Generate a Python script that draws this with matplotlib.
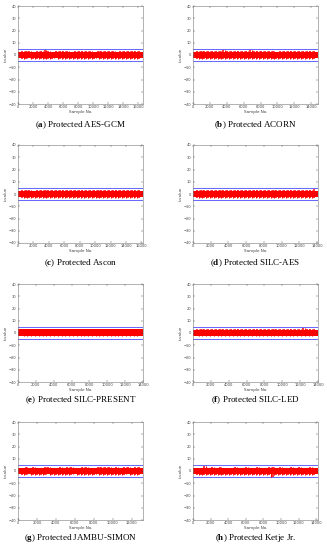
import numpy as np
import matplotlib
matplotlib.use("Agg")
import matplotlib.pyplot as plt

plt.rcParams["mathtext.fontset"] = "custom"
plt.rcParams["mathtext.rm"] = "Liberation Serif"
plt.rcParams["mathtext.bf"] = "Liberation Serif:bold"

# panel captions (letter, name)
letters = ["a", "b", "c", "d", "e", "f", "g", "h"]
names = ["Protected AES-GCM", "Protected ACORN", "Protected Ascon", "Protected SILC-AES",
         "Protected SILC-PRESENT", "Protected SILC-LED", "Protected JAMBU-SIMON", "Protected Ketje Jr."]

# number of samples in each trace (x-axis end)
n_samples = [16600, 14800, 16200, 14100, 14000, 14000, 13200, 14200]
threshold = 4.5

# dense core of the t-value band for each trace (lower, upper)
core_lo = [-2.5, -2.6, -2.5, -2.6, -2.2, -2.3, -2.5, -2.5]
core_hi = [2.6, 2.5, 2.6, 2.5, 2.9, 2.8, 2.4, 2.3]

# t-value peaks (32 bins across the trace)
upper = [
    [3.2, 3.0, 3.5, 2.8, 3.1, 3.3, 3.9, 3.0, 2.7, 3.2, 2.9, 3.4, 3.0, 2.8, 3.1, 3.3,
     2.9, 3.0, 3.6, 2.8, 3.0, 3.2, 2.9, 3.1, 3.4, 2.8, 3.0, 3.3, 3.5, 2.9, 3.1, 3.2],
    [3.0, 3.3, 2.9, 3.1, 3.4, 3.0, 3.2, 3.8, 3.1, 2.9, 3.0, 3.3, 3.5, 3.1, 4.2, 3.2,
     3.0, 2.9, 3.1, 3.3, 3.0, 2.8, 3.2, 3.1, 3.4, 3.0, 2.9, 3.2, 3.3, 3.0, 3.1, 3.4],
    [3.1, 3.4, 3.0, 2.8, 3.2, 3.3, 2.9, 3.1, 3.5, 3.0, 3.2, 3.6, 3.0, 2.9, 3.1, 3.3,
     3.2, 3.0, 2.9, 3.4, 3.1, 3.0, 3.2, 3.3, 2.9, 3.1, 3.4, 3.0, 3.2, 3.1, 3.3, 3.0],
    [3.0, 3.2, 3.1, 3.3, 2.9, 3.0, 3.4, 3.1, 3.2, 3.0, 3.3, 2.9, 3.5, 3.1, 3.0, 3.2,
     3.6, 3.1, 3.0, 3.3, 2.9, 3.1, 3.2, 3.4, 3.0, 3.1, 3.2, 3.0, 3.3, 3.1, 3.2, 3.9],
    [3.4, 3.2, 3.5, 3.1, 3.3, 3.6, 3.2, 3.4, 3.1, 3.5, 3.3, 3.2, 3.6, 3.4, 3.2, 3.5,
     3.3, 3.1, 3.4, 3.6, 3.2, 3.3, 3.5, 3.1, 3.4, 3.2, 3.6, 3.3, 3.5, 3.2, 3.4, 3.3],
    [3.2, 3.4, 3.1, 3.3, 3.5, 3.2, 3.0, 3.4, 3.3, 3.1, 3.5, 3.2, 3.6, 3.3, 3.1, 3.4,
     3.2, 3.5, 3.1, 3.3, 3.4, 3.2, 3.6, 3.3, 3.1, 3.5, 3.2, 3.4, 4.0, 3.3, 3.2, 3.4],
    [2.6, 2.9, 2.7, 3.0, 2.8, 2.6, 3.1, 2.9, 2.7, 2.8, 3.0, 2.7, 3.4, 2.9, 2.8, 2.7,
     3.0, 2.9, 2.6, 2.8, 3.1, 3.2, 3.0, 2.9, 2.8, 3.0, 2.7, 2.9, 3.1, 2.8, 3.0, 2.9],
    [2.5, 2.8, 4.3, 2.6, 2.9, 2.7, 3.0, 2.6, 2.8, 2.5, 2.9, 2.7, 2.6, 3.0, 2.8, 2.7,
     2.9, 2.6, 2.8, 2.9, 3.1, 2.7, 3.0, 2.8, 2.6, 2.9, 2.7, 3.0, 2.8, 2.6, 2.9, 2.7],
]
lower = [
    [-3.0, -3.3, -2.8, -3.1, -3.4, -2.9, -3.2, -3.0, -3.5, -2.8, -3.1, -3.0, -3.3, -2.9, -3.1, -3.2,
     -3.4, -2.9, -3.0, -3.2, -2.8, -3.1, -3.0, -3.3, -2.9, -3.1, -3.2, -3.0, -2.9, -3.3, -3.0, -3.1],
    [-3.2, -3.0, -3.4, -2.9, -3.1, -3.3, -3.0, -3.5, -3.1, -2.9, -3.2, -3.0, -3.3, -3.6, -3.1, -3.0,
     -2.9, -3.2, -3.4, -3.0, -3.1, -2.9, -3.3, -3.0, -3.2, -3.5, -3.0, -3.1, -2.9, -3.2, -3.0, -3.1],
    [-3.1, -2.9, -3.6, -3.0, -3.2, -3.1, -3.3, -2.9, -3.0, -3.4, -3.1, -3.0, -3.2, -3.5, -3.0, -3.1,
     -3.3, -3.0, -2.9, -3.2, -3.1, -3.4, -3.0, -2.9, -3.1, -3.2, -3.0, -3.3, -2.9, -3.1, -3.0, -3.2],
    [-3.0, -3.3, -3.1, -2.9, -3.2, -3.4, -3.0, -3.1, -3.3, -2.9, -3.0, -3.2, -3.1, -3.4, -3.0, -2.9,
     -3.2, -3.1, -3.3, -3.0, -3.1, -2.9, -3.2, -3.0, -3.3, -3.1, -3.0, -3.2, -2.9, -3.1, -3.4, -3.6],
    [-2.4, -2.6, -2.3, -2.5, -2.7, -2.4, -2.6, -2.3, -2.5, -2.4, -2.7, -2.5, -2.3, -2.6, -2.4, -2.5,
     -2.7, -2.4, -2.3, -2.6, -2.5, -2.4, -2.6, -2.3, -2.5, -2.7, -2.4, -2.6, -2.5, -2.3, -2.4, -2.6],
    [-2.5, -2.7, -2.4, -2.6, -2.8, -2.5, -2.7, -2.4, -2.6, -2.5, -2.8, -2.6, -2.4, -2.7, -2.5, -2.6,
     -2.8, -2.5, -2.4, -2.7, -2.6, -2.5, -2.7, -2.4, -2.6, -2.8, -2.5, -2.7, -2.6, -2.4, -2.5, -2.7],
    [-2.9, -3.1, -2.8, -3.0, -3.2, -2.9, -3.0, -2.8, -3.1, -2.9, -3.0, -3.2, -2.9, -3.0, -2.8, -3.1,
     -3.0, -2.9, -3.1, -3.0, -2.8, -3.0, -3.1, -2.9, -3.0, -3.2, -2.9, -3.0, -2.8, -3.1, -3.0, -2.9],
    [-3.0, -3.2, -3.6, -2.9, -3.1, -3.0, -3.3, -2.9, -3.0, -3.2, -3.1, -2.9, -3.0, -3.4, -3.1, -3.0,
     -3.2, -2.9, -3.1, -3.0, -5.0, -3.1, -2.9, -3.2, -3.0, -3.1, -2.9, -3.0, -3.2, -3.1, -3.0, -2.9],
]

W, H = 327, 550
fig = plt.figure(figsize=(W / 100, H / 100), dpi=100)

col_left = [18, 193]
row_top = [6, 145, 284, 422]
ax_w, ax_h = 125, 98
cap_y = [125, 263, 400, 538]

for i in range(8):
    r, c = divmod(i, 2)
    x0 = col_left[c]
    y0 = row_top[r]
    ax = fig.add_axes([x0 / W, 1 - (y0 + ax_h) / H, ax_w / W, ax_h / H])

    ax.axhline(threshold, color="#6666ff", linewidth=0.7)
    ax.axhline(-threshold, color="#6666ff", linewidth=0.7)
    ax.axhspan(core_lo[i], core_hi[i], color="red", linewidth=0)
    n = len(upper[i])
    x = np.linspace(0, n_samples[i], n + 2)[1:-1]
    ax.vlines(x, lower[i], upper[i], color="red", linewidth=1.1)
    x2 = x + n_samples[i] / (2 * (n + 1))
    ax.vlines(x2[:-1], lower[i][1:], upper[i][:-1], color="red", linewidth=0.8)

    ax.set_xlim(0, n_samples[i])
    ax.set_ylim(-40, 40)
    ax.set_yticks(range(-40, 41, 10))
    ax.set_xticks(range(0, n_samples[i] + 1, 2000))
    ax.tick_params(direction="in", labelsize=2.6, length=1.5, width=0.3, pad=1,
                   top=True, right=True, colors="#444444")
    for s in ax.spines.values():
        s.set_linewidth(0.4)
        s.set_color("#777777")
    ax.set_xlabel("Sample No.", fontsize=3, labelpad=0.5, color="#444444")
    ax.set_ylabel("t-value", fontsize=3, labelpad=0.5, color="#444444")

    cx = (x0 + ax_w / 2) / W
    fig.text(cx, 1 - cap_y[r] / H, "(" + r"$\mathbf{" + letters[i] + "}$" + ") " + names[i],
             ha="center", va="center", fontsize=6.5, family="Liberation Serif")

fig.savefig("out.png", dpi=100)
